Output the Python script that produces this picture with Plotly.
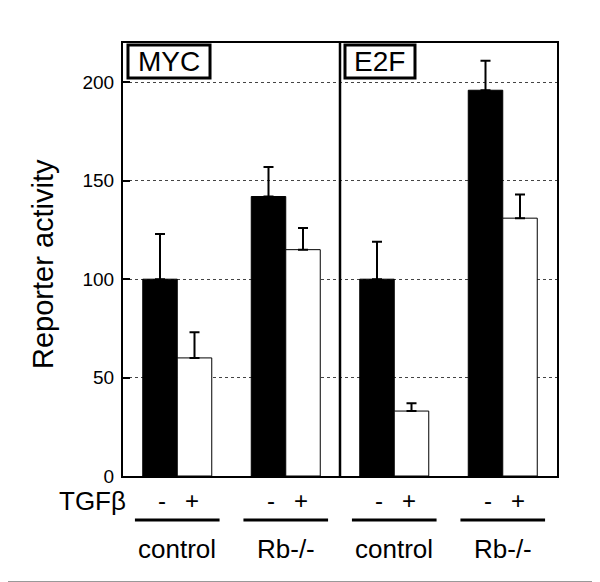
import plotly.graph_objects as go

groups = ["control", "Rb-/-", "control", "Rb-/-"]
panels = ["MYC", "E2F"]
tgf_labels = ["-", "+"]
minus_vals = [100, 142, 100, 196]
minus_err = [23, 15, 19, 15]
plus_vals = [60, 115, 33, 131]
plus_err = [13, 11, 4, 12]
y_ticks = [0, 50, 100, 150, 200]

FONT = "Liberation Sans, Arial, sans-serif"
xpos = list(range(len(groups)))

fig = go.Figure()
fig.add_trace(go.Bar(
    x=xpos, y=minus_vals, name="-",
    marker=dict(color="black", line=dict(color="black", width=1)),
    error_y=dict(type="data", array=minus_err, arrayminus=[0]*4, symmetric=False,
                 color="black", thickness=2, width=5),
))
fig.add_trace(go.Bar(
    x=xpos, y=plus_vals, name="+",
    marker=dict(color="white", line=dict(color="black", width=1)),
    error_y=dict(type="data", array=plus_err, arrayminus=[0]*4, symmetric=False,
                 color="black", thickness=2, width=5),
))

shapes = []
annotations = []
# divider between panels
shapes.append(dict(type="line", xref="x", yref="paper", x0=1.5, x1=1.5, y0=0, y1=1,
                   line=dict(color="black", width=2.5)))
# bottom image border line
shapes.append(dict(type="line", xref="paper", yref="paper", x0=-0.3, x1=1.2, y0=-0.2445, y1=-0.2445,
                   line=dict(color="#999999", width=1.5)))
for i, g in enumerate(groups):
    shapes.append(dict(type="line", xref="x", yref="paper", x0=i-0.39, x1=i+0.39,
                       y0=-0.1016, y1=-0.1016, line=dict(color="black", width=3)))
    annotations.append(dict(text=g, x=i, y=-0.168, xref="x", yref="paper", showarrow=False,
                            xanchor="center", yanchor="middle",
                            font=dict(size=26, family=FONT, color="black")))
    for s, off in zip(tgf_labels, [-0.14, 0.14]):
        annotations.append(dict(text=s, x=i+off, y=-0.057, xref="x", yref="paper", showarrow=False,
                                xanchor="center", yanchor="middle",
                                font=dict(size=24, family=FONT, color="black")))

annotations.append(dict(text="TGFβ", x=0.012, y=-0.057, xref="paper", yref="paper",
                        xanchor="right", yanchor="middle", showarrow=False,
                        font=dict(size=26, family=FONT, color="black")))
annotations.append(dict(text="Reporter activity", x=-0.184, y=0.49, xref="paper", yref="paper",
                        xanchor="center", yanchor="middle",
                        textangle=-90, showarrow=False,
                        font=dict(size=29, family=FONT, color="black")))
# panel label boxes (paper coords: x0, x1)
for p, (bx0, bx1) in zip(panels, [(0.0115, 0.2005), (0.5115, 0.6728)]):
    shapes.append(dict(type="rect", xref="paper", yref="paper", x0=bx0, x1=bx1,
                       y0=0.9192, y1=0.9954, fillcolor="white",
                       line=dict(color="black", width=3), layer="above"))
    annotations.append(dict(text=p, x=(bx0 + bx1) / 2, y=0.9573, xref="paper", yref="paper",
                            xanchor="center", yanchor="middle", showarrow=False,
                            font=dict(size=28, family=FONT, color="black")))

fig.update_layout(
    width=592, height=574,
    margin=dict(l=115, r=43, t=35, b=106),
    paper_bgcolor="white", plot_bgcolor="white",
    barmode="group", bargap=0.364, bargroupgap=0,
    showlegend=False,
    shapes=shapes, annotations=annotations,
    font=dict(family=FONT, color="black"),
)
fig.update_xaxes(range=[-0.5, 3.5], showticklabels=False, showgrid=False, zeroline=False,
                 showline=True, mirror=True, linecolor="black", linewidth=2, ticks="")
fig.update_yaxes(range=[0, 220], tickvals=y_ticks, ticks="inside", ticklen=7, tickwidth=2,
                 tickcolor="black", showline=True, mirror=True, linecolor="black", linewidth=2,
                 showgrid=True, gridcolor="#444444", griddash="dot", gridwidth=1.2,
                 zeroline=False, tickfont=dict(size=19, family=FONT, color="black"),
                 ticklabelstandoff=3)

fig.write_html("out.html")
